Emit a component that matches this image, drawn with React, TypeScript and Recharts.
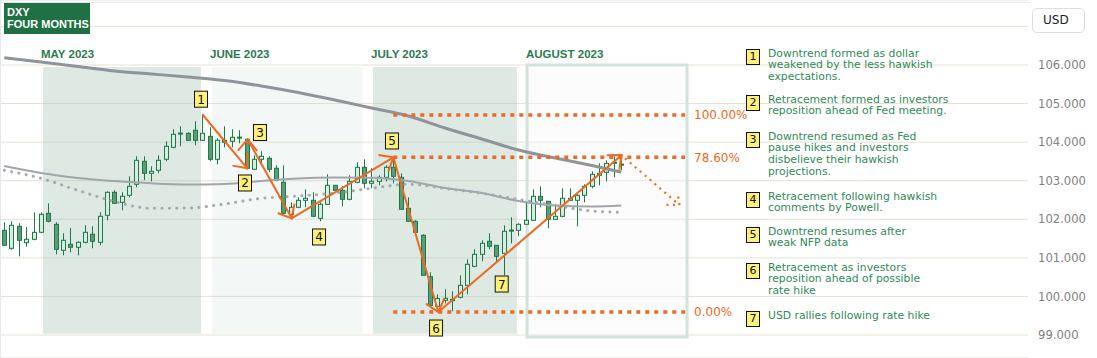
import React from 'react';
import {
  ComposedChart,
  Bar,
  Line,
  XAxis,
  YAxis,
  CartesianGrid,
  ReferenceArea,
  ReferenceLine,
  ReferenceDot,
} from 'recharts';

// daily DXY candles, late April to mid August 2023
const opens = [
  101.714, 101.248, 101.818, 101.393, 101.481, 101.662, 102.155, 101.87, 101.196, 101.351,
  101.274, 101.403, 101.611, 101.403, 102.103, 102.699, 102.44, 102.622, 102.907, 103.503,
  103.192, 103.27, 103.555, 103.866, 104.235, 104.229, 104.307, 104.048, 104.151, 103.555,
  104.048, 104.022, 104.13, 104.074, 103.296, 103.555, 103.581, 103.322, 102.959, 102.129,
  102.311, 102.492, 102.492, 102.025, 102.388, 102.881, 102.751, 102.518, 102.959, 103.348,
  102.933, 102.985, 103.088, 103.348, 103.088, 102.285, 101.948, 101.585, 100.511, 99.744,
  99.899, 99.925, 99.977, 100.288, 100.781, 101.092, 101.429, 101.325, 101.118, 101.72,
  101.714, 101.87, 101.974, 102.596, 102.466, 101.999, 102.077, 102.492, 102.492, 102.622,
  102.855, 103.14, 103.218, 103.48, 103.43,
];
const highs = [
  101.922, 101.948, 101.896, 101.8, 102.181, 102.181, 102.414, 101.922, 101.637, 101.774,
  101.429, 101.844, 101.818, 102.181, 102.725, 102.751, 102.699, 103.114, 103.633, 103.633,
  103.374, 103.659, 104.022, 104.333, 104.411, 104.255, 104.54, 104.722, 104.385, 104.1,
  104.411, 104.333, 104.307, 104.1, 103.659, 103.763, 103.633, 103.4, 103.4, 102.44,
  102.57, 102.777, 102.699, 102.44, 103.166, 102.89, 102.855, 103.14, 103.477, 103.555,
  103.322, 103.14, 103.4, 103.581, 103.192, 102.57, 101.974, 101.611, 100.625, 100.055,
  100.185, 100.133, 100.548, 100.962, 101.222, 101.455, 101.637, 101.33, 101.844, 102.051,
  101.896, 102.44, 102.777, 102.855, 102.47, 102.388, 102.803, 102.803, 102.648, 102.907,
  103.244, 103.451, 103.529, 103.633, 103.659,
];
const lows = [
  101.307, 101.211, 101.04, 101.289, 101.455, 101.64, 101.922, 101.092, 101.066, 101.144,
  101.066, 101.377, 101.248, 101.325, 101.974, 102.4, 102.233, 102.57, 102.829, 103.018,
  102.985, 103.192, 103.503, 103.84, 103.892, 104.03, 103.918, 104.03, 103.503, 103.425,
  103.866, 103.866, 103.97, 103.296, 103.29, 103.4, 103.218, 102.985, 102.129, 102.103,
  102.285, 102.311, 102.051, 101.948, 102.37, 102.74, 102.337, 102.492, 102.933, 102.803,
  102.803, 102.881, 102.985, 102.933, 102.25, 101.94, 101.655, 100.54, 99.76, 99.604,
  99.822, 99.614, 99.951, 100.055, 100.755, 100.911, 101.222, 100.885, 100.548, 101.377,
  101.559, 101.86, 101.96, 102.311, 101.766, 101.99, 102.051, 102.47, 101.818, 102.44,
  102.803, 102.881, 102.985, 103.088, 103.27,
];
const closes = [
  101.325, 101.844, 101.455, 101.481, 101.662, 102.129, 101.948, 101.222, 101.455, 101.274,
  101.403, 101.662, 101.429, 102.077, 102.699, 102.414, 102.596, 102.855, 103.529, 103.192,
  103.244, 103.529, 103.892, 104.203, 104.229, 104.048, 104.048, 104.229, 103.555, 104.048,
  103.996, 104.125, 104.125, 103.322, 103.555, 103.633, 103.296, 103.011, 102.155, 102.311,
  102.492, 102.544, 102.077, 102.388, 102.881, 102.751, 102.518, 102.985, 103.348, 102.933,
  102.985, 103.088, 103.348, 103.114, 102.259, 101.948, 101.662, 100.548, 99.77, 99.946,
  99.951, 99.89, 100.288, 100.833, 101.092, 101.377, 101.299, 101.04, 101.688, 101.714,
  101.87, 101.974, 102.596, 102.492, 101.999, 102.077, 102.544, 102.544, 102.622, 102.855,
  103.166, 103.192, 103.451, 103.477, 103.425,
];

// moving averages, read at every 5th session
const maIndex = [0, 5, 10, 15, 20, 25, 30, 35, 40, 45, 50, 55, 60, 65, 70, 75, 80, 84];
const maSlow = [
  106.187, 106.078, 105.961, 105.844, 105.767, 105.689, 105.598, 105.456, 105.287, 105.093,
  104.885, 104.678, 104.367, 104.081, 103.796, 103.589, 103.394, 103.226,
];
const maMid = [
  103.381, 103.2, 103.07, 102.992, 102.933, 102.902, 102.915, 102.992, 103.057, 103.083,
  103.075, 102.992, 102.811, 102.681, 102.474, 102.357, 102.331, 102.357,
];
const maFast = [
  103.27, 103.063, 102.751, 102.461, 102.285, 102.292, 102.396, 102.544, 102.604, 102.681,
  102.803, 102.907, 102.798, 102.674, 102.518, 102.357, 102.215, 102.181,
];

const yTicks = [99, 100, 101, 102, 103, 104, 105, 106, 107];

const months = ['MAY 2023', 'JUNE 2023', 'JULY 2023', 'AUGUST 2023'];
const monthFrom = [5.27, 28.28, 50.2, 71.17];
const monthTo = [26.78, 48.77, 69.8, 92.95];

// swing points of the orange zigzag (session index, price)
const waveIdx = [26.98, 33.08, 33.14, 39.13, 52.96, 59.09, 84.06];
const wavePx = [104.717, 103.322, 104.074, 102.025, 103.607, 99.596, 103.667];
const waveLabelIdx = [26.78, 32.77, 34.81, 42.85, 52.78, 58.78, 67.72];
const waveLabelPx = [105.113, 102.941, 104.25, 101.541, 104.03, 99.181, 100.322];

const fibNames = ['100.00%', '78.60%', '0.00%'];
const fibLevels = [104.704, 103.607, 99.596];
const fibFrom = 52.96;
const fibTo = 92.68;

const projFrom = { i: 84.5, v: 103.581 };
const projTo = { i: 91.93, v: 102.37 };

const notes = [
  ['Downtrend formed as dollar', 'weakened by the less hawkish', 'expectations.'],
  ['Retracement formed as investors', 'reposition ahead of Fed meeting.'],
  ['Downtrend resumed as Fed', 'pause hikes and investors', 'disbelieve their hawkish', 'projections.'],
  ['Retracement following hawkish', 'comments by Powell.'],
  ['Downtrend resumes after', 'weak NFP data'],
  ['Retracement as investors', 'reposition ahead of possible', 'rate hike'],
  ['USD rallies following rate hike'],
];
const noteTops = [49, 95, 132, 192, 227, 263, 311];
const monthLefts = [41, 210, 371, 526];

const ORANGE = '#ec6a22';
const EDGE = '#1b7a46';
const FONT = "'DejaVu Sans', sans-serif";

const Candle = (props: any) => {
  const { x, y, width, height, payload } = props;
  if (payload == null) return null;
  const { open, close, high, low } = payload;
  const cx = Math.round(x + width / 2) + 0.5;
  const top = Math.min(y, y + height);
  const h = Math.abs(height);
  const span = high - low || 1;
  const yOf = (v: number) => top + ((high - v) / span) * h;
  const up = close >= open;
  const bt = yOf(Math.max(open, close));
  const bb = yOf(Math.min(open, close));
  return (
    <g>
      <line x1={cx} x2={cx} y1={top} y2={top + h} stroke={EDGE} strokeWidth={1} />
      <rect
        x={cx - 2}
        y={bt}
        width={4}
        height={Math.max(bb - bt, 1)}
        fill={up ? '#d9ece1' : '#5c9d78'}
        stroke={EDGE}
        strokeWidth={1}
      />
    </g>
  );
};

const arrow = (headOnly: boolean, dashed: boolean) => (props: any) => {
  const { x1, y1, x2, y2 } = props;
  const ang = Math.atan2(y2 - y1, x2 - x1);
  const len = dashed ? 13 : 15;
  const sp = (40 * Math.PI) / 180;
  const a1 = ang + Math.PI - sp;
  const a2 = ang + Math.PI + sp;
  const d = `M${x2 + len * Math.cos(a1)},${y2 + len * Math.sin(a1)}L${x2},${y2}L${
    x2 + len * Math.cos(a2)
  },${y2 + len * Math.sin(a2)}`;
  const dash = dashed ? '2 4.5' : undefined;
  const w = dashed ? 2.2 : 2;
  return (
    <g>
      {!headOnly && (
        <line x1={x1} y1={y1} x2={x2} y2={y2} stroke={ORANGE} strokeWidth={w} strokeDasharray={dash} />
      )}
      <path d={d} fill="none" stroke={ORANGE} strokeWidth={w} strokeDasharray={dash} />
    </g>
  );
};

const WaveTag = (n: string) => (props: any) => {
  const { cx, cy } = props;
  return (
    <g>
      <rect x={cx - 6.5} y={cy - 8} width={13} height={16} fill="#fdf17a" stroke="#111" strokeWidth={1} />
      <text x={cx} y={cy + 4.5} textAnchor="middle" fontSize={12} fontFamily={FONT} fill="#111">
        {n}
      </text>
    </g>
  );
};

export default function App() {
  const data = opens.map((o, i) => {
    const k = maIndex.indexOf(i);
    return {
      i,
      open: o,
      high: highs[i],
      low: lows[i],
      close: closes[i],
      maSlow: k >= 0 ? maSlow[k] : undefined,
      maMid: k >= 0 ? maMid[k] : undefined,
      maFast: k >= 0 ? maFast[k] : undefined,
    };
  });

  const seg = (a: number, b: number) => [
    { x: waveIdx[a], y: wavePx[a] },
    { x: waveIdx[b], y: wavePx[b] },
  ];

  return (
    <div style={{ position: 'absolute', left: 0, top: 0, width: 1097, height: 358, background: '#fff', overflow: 'hidden' }}>
      <ComposedChart width={1097} height={358} data={data} margin={{ top: 0, right: 0, bottom: 0, left: 0 }}>
        <XAxis type="number" dataKey="i" domain={[-0.585, 139.37]} allowDataOverflow hide />
        <YAxis
          orientation="right"
          domain={[98.404, 107.685]}
          allowDataOverflow
          ticks={yTicks}
          interval={0}
          tickFormatter={(v: number) => (v === 107 ? '' : v.toFixed(3))}
          axisLine={false}
          tickLine={false}
          width={69}
          tickMargin={4}
          tick={{ fill: '#808080', fontSize: 11.6, fontFamily: FONT }}
        />
        <CartesianGrid vertical={false} stroke="#e4e2d4" />
        {months.map((m, k) =>
          k < 3 ? (
            <ReferenceArea
              key={m}
              x1={monthFrom[k]}
              x2={monthTo[k]}
              y1={99.03}
              y2={105.95}
              fill="#a9c9b7"
              fillOpacity={k === 1 ? 0.14 : 0.4}
              stroke="none"
            />
          ) : (
            <ReferenceArea
              key={m}
              x1={monthFrom[k]}
              x2={monthTo[k]}
              y1={98.95}
              y2={106.0}
              fill="#f4f8f6"
              fillOpacity={0.4}
              stroke="#d3e2da"
              strokeWidth={3}
            />
          )
        )}
        <Line dataKey="maSlow" type="monotone" stroke="#8f949b" strokeWidth={3} dot={false} connectNulls isAnimationActive={false} />
        <Line dataKey="maMid" type="monotone" stroke="#a2a6ab" strokeWidth={2} dot={false} connectNulls isAnimationActive={false} />
        <Line
          dataKey="maFast"
          type="monotone"
          stroke="#a6a9ad"
          strokeWidth={3}
          strokeDasharray="0.1 7.3"
          strokeLinecap="round"
          dot={false}
          connectNulls
          isAnimationActive={false}
        />
        <Bar
          dataKey={(d: any) => [d.low, d.high]}
          barSize={5}
          shape={<Candle />}
          isAnimationActive={false}
        />
        {fibLevels.map((v, k) => (
          <ReferenceLine
            key={fibNames[k]}
            segment={[
              { x: fibFrom, y: v },
              { x: fibTo, y: v },
            ]}
            stroke={ORANGE}
            strokeWidth={3.5}
            strokeDasharray="4 5"
            ifOverflow="visible"
            label={{ value: fibNames[k], position: 'right', offset: 9, fill: ORANGE, fontSize: 12, fontFamily: FONT }}
          />
        ))}
        <ReferenceLine segment={seg(0, 1)} ifOverflow="visible" shape={arrow(false, false)} />
        <ReferenceLine segment={seg(1, 2)} ifOverflow="visible" shape={arrow(true, false)} />
        <ReferenceLine segment={seg(2, 3)} ifOverflow="visible" shape={arrow(false, false)} />
        <ReferenceLine segment={seg(3, 4)} ifOverflow="visible" shape={arrow(false, false)} />
        <ReferenceLine segment={seg(4, 5)} ifOverflow="visible" shape={arrow(false, false)} />
        <ReferenceLine segment={seg(5, 6)} ifOverflow="visible" shape={arrow(false, false)} />
        <ReferenceLine
          segment={[
            { x: projFrom.i, y: projFrom.v },
            { x: projTo.i, y: projTo.v },
          ]}
          ifOverflow="visible"
          shape={arrow(false, true)}
        />
        {waveLabelIdx.map((xi, k) => (
          <ReferenceDot key={k} x={xi} y={waveLabelPx[k]} r={8} ifOverflow="visible" shape={WaveTag(String(k + 1))} />
        ))}
      </ComposedChart>

      <div style={{ position: 'absolute', left: 0, top: 2, width: 1030, height: 1, background: '#e6e6ee' }} />
      <div style={{ position: 'absolute', left: 0, top: 0, width: 1, height: 358, background: '#e6e6ee' }} />

      <div
        style={{
          position: 'absolute',
          left: 4,
          top: 3,
          width: 86,
          height: 31,
          background: '#1f7042',
          color: '#fff',
          fontFamily: "'Liberation Sans', Arial, sans-serif",
          fontWeight: 'bold',
          fontSize: 11,
          lineHeight: '11.5px',
          padding: '4px 0 0 3px',
          boxSizing: 'border-box',
        }}
      >
        <div>DXY</div>
        <div>FOUR MONTHS</div>
      </div>

      {months.map((m, k) => (
        <div
          key={m}
          style={{
            position: 'absolute',
            left: monthLefts[k],
            top: 47,
            fontFamily: "'Liberation Sans', Arial, sans-serif",
            fontWeight: 'bold',
            fontSize: 11.5,
            lineHeight: '14px',
            color: '#2d7a50',
            whiteSpace: 'nowrap',
          }}
        >
          {m}
        </div>
      ))}

      {notes.map((lines, k) => (
        <React.Fragment key={k}>
          <div
            style={{
              position: 'absolute',
              left: 746,
              top: noteTops[k],
              width: 12,
              height: 14,
              background: '#fdf17a',
              border: '1px solid #111',
              fontFamily: FONT,
              fontSize: 11,
              lineHeight: '14px',
              textAlign: 'center',
              color: '#111',
            }}
          >
            {k + 1}
          </div>
          <div
            style={{
              position: 'absolute',
              left: 768,
              top: noteTops[k] - 1.5,
              fontFamily: FONT,
              fontSize: 10.8,
              lineHeight: '11.8px',
              color: '#2f8a57',
              whiteSpace: 'nowrap',
            }}
          >
            {lines.map((t) => (
              <div key={t}>{t}</div>
            ))}
          </div>
        </React.Fragment>
      ))}

      <div
        style={{
          position: 'absolute',
          left: 1032,
          top: 8,
          width: 53,
          height: 25,
          border: '1px solid #dcdee4',
          borderRadius: 5,
          boxSizing: 'border-box',
          fontFamily: FONT,
          fontSize: 12,
          lineHeight: '23px',
          paddingLeft: 10,
          color: '#222',
          background: '#fff',
        }}
      >
        USD
      </div>
    </div>
  );
}
